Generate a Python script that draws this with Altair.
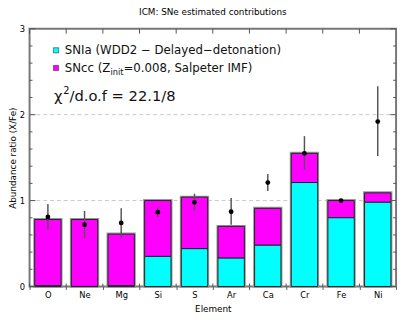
import altair as alt
import pandas as pd

# ---- data ----
elements = ["O", "Ne", "Mg", "Si", "S", "Ar", "Ca", "Cr", "Fe", "Ni"]
snia = [0.01, 0.0, 0.01, 0.35, 0.44, 0.33, 0.48, 1.21, 0.80, 0.98]
sncc = [0.77, 0.78, 0.60, 0.65, 0.60, 0.37, 0.43, 0.34, 0.20, 0.11]
observed = [0.81, 0.72, 0.74, 0.865, 0.98, 0.87, 1.21, 1.55, 1.00, 1.92]
err_low = [0.66, 0.56, 0.57, 0.81, 0.88, 0.72, 1.11, 1.36, 0.99, 1.52]
err_high = [0.96, 0.88, 0.91, 0.92, 1.08, 1.03, 1.31, 1.75, 1.01, 2.33]

y_major = [0, 1, 2, 3]
y_minor = [0.2, 0.4, 0.6, 0.8, 1.2, 1.4, 1.6, 1.8, 2.2, 2.4, 2.6, 2.8]
grid_values = [1, 2]

title_text = "ICM: SNe estimated contributions"
x_title = "Element"
y_title = "Abundance ratio (X/Fe)"
legend_ia = "SNIa (WDD2 \u2212 Delayed\u2212detonation)"
legend_cc_a = "SNcc (Z"
legend_cc_sub = "init"
legend_cc_b = "=0.008, Salpeter IMF)"
chi_a = "\u03c7"
chi_sup = "2"
chi_b = "/d.o.f = 22.1/8"

CYAN = "#00ffff"
MAGENTA = "#ff00ff"
FONT = "DejaVu Sans"
W, H = 374, 263

df = pd.DataFrame({
    "element": elements,
    "snia": snia,
    "sncc": sncc,
    "obs": observed,
    "lo": err_low,
    "hi": err_high,
})
df["total"] = df["snia"] + df["sncc"]

xscale = alt.Scale(domain=elements, paddingInner=0, paddingOuter=0)
yscale = alt.Scale(domain=[0, 3], nice=False, zero=False)

x_axis = alt.Axis(
    orient="bottom", tickBand="extent", tickSize=3, tickColor="#555",
    tickWidth=1, domain=False, labelAngle=0, labelFontSize=8.5,
    labelFont=FONT, labelColor="#000", labelPadding=1,
    title=x_title, titleFont=FONT, titleFontSize=9, titleFontWeight="normal",
    titleColor="#000", titleBaseline="middle", titleY=23, grid=False,
)
y_axis = alt.Axis(
    orient="left", values=y_major, format="d", ticks=False, domain=False,
    labelPadding=5, labelFontSize=8.5, labelFont=FONT, labelColor="#000",
    title=y_title, titleFont=FONT, titleFontSize=9, titleFontWeight="normal",
    titleColor="#000", titleAngle=270, titleBaseline="bottom", titleAlign="center",
    titleX=-12, titleY=H / 2, grid=False,
)

def X(field="element:N", **kw):
    return alt.X(field, scale=xscale, sort=elements, axis=x_axis, **kw)

def Y(field):
    return alt.Y(field, scale=yscale, axis=y_axis)

base = alt.Chart(df)

grid = alt.Chart(pd.DataFrame({"v": grid_values})).mark_rule(
    color="#c8c8c8", strokeDash=[4, 3], strokeWidth=1
).encode(y=Y("v:Q"), x=alt.value(0), x2=alt.value(W))

halo = base.mark_bar(width={"band": 0.72}, fill="#999", stroke="#999", strokeWidth=3).encode(
    x=X(), y=Y("total:Q"), y2=alt.datum(0)
)
bar_cc = base.mark_bar(width={"band": 0.72}, fill=MAGENTA, stroke="#222", strokeWidth=1).encode(
    x=X(), y=Y("total:Q"), y2=alt.Y2("snia:Q")
)
bar_ia = base.mark_bar(width={"band": 0.72}, fill=CYAN, stroke="#222", strokeWidth=1).encode(
    x=X(), y=Y("snia:Q"), y2=alt.datum(0)
)
errs = base.mark_rule(color="#555", strokeWidth=1.5).encode(
    x=X(), y=Y("lo:Q"), y2=alt.Y2("hi:Q")
)
pts = base.mark_circle(size=24, color="#000", opacity=1).encode(
    x=X(), y=Y("obs:Q")
)

# inward ticks
maj = alt.Chart(pd.DataFrame({"v": y_major})).mark_rule(color="#555", strokeWidth=1)
mnr = alt.Chart(pd.DataFrame({"v": y_minor})).mark_rule(color="#555", strokeWidth=1)
tick_left_maj = maj.encode(y=Y("v:Q"), x=alt.value(0), x2=alt.value(6))
tick_left_min = mnr.encode(y=Y("v:Q"), x=alt.value(0), x2=alt.value(3))
tick_right_maj = maj.encode(y=Y("v:Q"), x=alt.value(W - 6), x2=alt.value(W))
tick_right_min = mnr.encode(y=Y("v:Q"), x=alt.value(W - 3), x2=alt.value(W))
tick_top = base.mark_rule(color="#555", strokeWidth=1).encode(
    x=X(bandPosition=0), y=alt.value(0), y2=alt.value(5))
tick_bot = base.mark_rule(color="#555", strokeWidth=1).encode(
    x=X(bandPosition=0), y=alt.value(H - 3), y2=alt.value(H))

# legend / annotations
one = pd.DataFrame({"k": [0]})
def txt(s, x, y, size, baseline="middle"):
    return alt.Chart(one).mark_text(
        text=s, align="left", baseline=baseline, font=FONT, fontSize=size, color="#111"
    ).encode(x=alt.value(x), y=alt.value(y))

sw_ia = alt.Chart(one).mark_square(size=28, fill=CYAN, stroke="#333", strokeWidth=0.6, opacity=1).encode(
    x=alt.value(27), y=alt.value(22))
sw_cc = alt.Chart(one).mark_square(size=28, fill=MAGENTA, stroke="#333", strokeWidth=0.6, opacity=1).encode(
    x=alt.value(27), y=alt.value(40))

ann = [
    sw_ia, sw_cc,
    txt(legend_ia, 36, 22, 12),
    txt(legend_cc_a, 36, 40, 12),
    txt(legend_cc_sub, 82.5, 44.5, 8.4),
    txt(legend_cc_b, 95.8, 40, 12),
    txt(chi_a, 25, 74, 15, "alphabetic"),
    txt(chi_sup, 34.3, 67, 10, "alphabetic"),
    txt(chi_b, 40.7, 74, 15, "alphabetic"),
]

chart = alt.layer(
    grid, halo, bar_cc, bar_ia, errs, pts,
    tick_left_maj, tick_left_min, tick_right_maj, tick_right_min, tick_top, tick_bot,
    *ann,
).properties(
    width=W, height=H,
    autosize=alt.AutoSizeParams(type="none"),
    padding={"left": 22, "top": 18, "right": 3, "bottom": 30},
    title=alt.TitleParams(title_text, font=FONT, fontSize=9, fontWeight="normal",
                          color="#000", anchor="middle", offset=8),
).configure_view(stroke="#777", strokeWidth=2)

chart.save("out.html", embed_options={"renderer": "svg", "actions": False})
